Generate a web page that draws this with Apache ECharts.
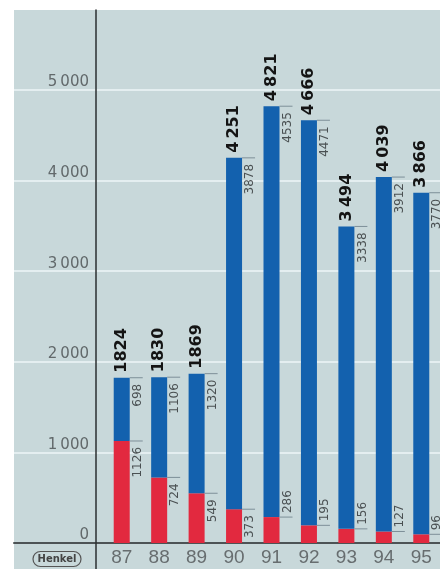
<!DOCTYPE html>
<html>
<head>
<meta charset="utf-8">
<script src="https://cdn.jsdelivr.net/npm/echarts@6/dist/echarts.min.js"></script>
<style>
html,body{margin:0;padding:0;background:#fff;}
#c{width:440px;height:569px;}
</style>
</head>
<body>
<div id="c"></div>
<script>
// ---- data ----
const years = ['87', '88', '89', '90', '91', '92', '93', '94', '95'];
const redValues = [1126, 724, 549, 373, 286, 195, 156, 127, 96];
const blueValues = [698, 1106, 1320, 3878, 4535, 4471, 3338, 3912, 3770];
const totalValues = [1824, 1830, 1869, 4251, 4821, 4666, 3494, 4039, 3866];
const yMin = 0, yMax = 5883, yStep = 1000;
const logoText = 'Henkel';

const THIN = '\u2009';
function fmtThousands(v) {
  if (v < 1000) return String(v);
  const s = String(v);
  return s.slice(0, s.length - 3) + THIN + s.slice(s.length - 3);
}
function fmtTotal(v) { return v >= 2000 ? fmtThousands(v) : String(v); }

const BLUE = '#1361ae';
const RED = '#e2293f';
const BAR_W = 16;

function txt(x, y, text, font, fill, align, valign, rot) {
  return {
    type: 'text', x: x, y: y, rotation: rot || 0,
    style: {
      text: text, font: font, fill: fill, textFill: fill,
      align: align, textAlign: align, verticalAlign: valign, textVerticalAlign: valign
    }
  };
}

const chart = echarts.init(document.getElementById('c'), null, {renderer: 'canvas'});
const option = {
  animation: false,
  backgroundColor: '#ffffff',
  graphic: [
    { type: 'rect', z: -100, silent: true,
      shape: { x: 14, y: 10, width: 426, height: 559 },
      style: { fill: '#c8d8da' } },
    { type: 'line', z: 100, silent: true,
      shape: { x1: 96, y1: 542, x2: 96, y2: 569 },
      style: { stroke: '#2b2f30', lineWidth: 1.5 } },
    { type: 'rect', z: 100, silent: true,
      shape: { x: 33, y: 551.5, width: 48, height: 15, r: 7.5 },
      style: { fill: 'none', stroke: '#555', lineWidth: 1.2 } },
    { type: 'text', z: 100, silent: true, x: 57, y: 559.5,
      style: { text: logoText, font: 'bold 10px "DejaVu Sans"', fill: '#444', textFill: '#444',
        align: 'center', textAlign: 'center', verticalAlign: 'middle', textVerticalAlign: 'middle' } }
  ],
  grid: [
    { left: 14, right: 0, top: 10, bottom: 26 },
    { left: 103, width: 342, top: 10, bottom: 26 }
  ],
  xAxis: [
    { gridIndex: 0, type: 'value', min: 0, max: 1,
      axisLine: { show: true, lineStyle: { color: '#4d5355', width: 2 } },
      axisTick: { show: false }, axisLabel: { show: false }, splitLine: { show: false } },
    { gridIndex: 1, type: 'category', data: years,
      axisLine: { show: false }, axisTick: { show: false },
      axisLabel: { margin: 5, fontSize: 19, fontFamily: '"Liberation Sans Narrow", "Liberation Sans", sans-serif',
        color: '#676d6f' } }
  ],
  yAxis: [
    { gridIndex: 0, type: 'value', min: yMin, max: yMax, interval: yStep,
      axisLine: { show: false }, axisTick: { show: false }, axisLabel: { show: false },
      splitLine: { show: true, showMaxLine: false, lineStyle: { color: '#e4eef0', width: 2 } } },
    { gridIndex: 1, type: 'value', min: yMin, max: yMax, interval: yStep, offset: 7,
      axisLine: { show: true, lineStyle: { color: '#2b2f30', width: 1.5 } },
      axisTick: { show: false }, splitLine: { show: false },
      axisLabel: { showMaxLabel: false, margin: 7, fontSize: 15, fontFamily: '"DejaVu Sans"',
        color: '#62696b', verticalAlign: 'bottom',
        formatter: function (v) { return fmtThousands(v); } } }
  ],
  series: [
    { type: 'bar', name: 'red', xAxisIndex: 1, yAxisIndex: 1, stack: 'a', barWidth: BAR_W,
      itemStyle: { color: RED }, data: redValues },
    { type: 'bar', name: 'blue', xAxisIndex: 1, yAxisIndex: 1, stack: 'a', barWidth: BAR_W,
      itemStyle: { color: BLUE }, data: blueValues },
    { type: 'custom', name: 'labels', xAxisIndex: 1, yAxisIndex: 1, z: 5, clip: false,
      data: years.map(function (y, i) { return [i, redValues[i], blueValues[i], totalValues[i]]; }),
      renderItem: function (params, api) {
        const i = api.value(0);
        const red = api.value(1), blue = api.value(2), total = api.value(3);
        const base = api.coord([i, 0]);
        const cx = base[0];
        const yTot = api.coord([i, total])[1];
        const yRed = api.coord([i, red])[1];
        const xr = cx + BAR_W / 2;
        const children = [];
        const tickStyle = { stroke: '#7d8f98', lineWidth: 1 };
        children.push({ type: 'line', shape: { x1: xr, y1: yTot, x2: xr + 13, y2: yTot }, style: tickStyle });
        children.push({ type: 'line', shape: { x1: xr, y1: yRed, x2: xr + 13, y2: yRed }, style: tickStyle });
        // total label above bar
        children.push(txt(cx, yTot - 5, fmtTotal(total), 'bold 16px "DejaVu Sans"', '#141414', 'left', 'middle', Math.PI / 2));
        // blue segment label below top tick
        children.push(txt(xr + 2, yTot + 6, String(blue), '12px "DejaVu Sans"', '#4a5052', 'right', 'top', Math.PI / 2));
        // red segment label
        if (red >= 300) {
          children.push(txt(xr + 2, yRed + 6, String(red), '12px "DejaVu Sans"', '#4a5052', 'right', 'top', Math.PI / 2));
        } else {
          children.push(txt(xr + 2, yRed - 4, String(red), '12px "DejaVu Sans"', '#4a5052', 'left', 'top', Math.PI / 2));
        }
        return { type: 'group', children: children };
      }
    }
  ]
};
chart.setOption(option);
</script>
</body>
</html>
